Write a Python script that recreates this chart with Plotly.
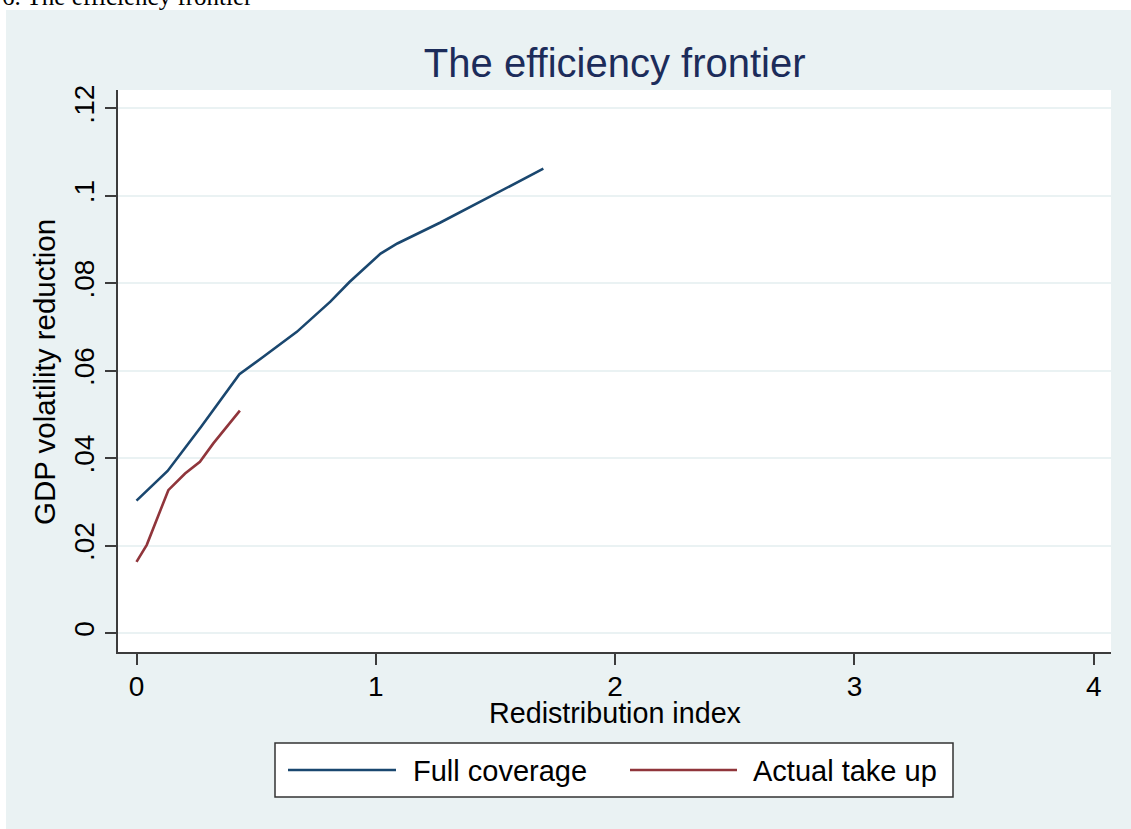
import plotly.graph_objects as go

# Series: redistribution index (x) vs GDP volatility reduction (y)
series_names = ["Full coverage", "Actual take up"]
series_colors = ["#1a476f", "#90353b"]

full_x = [0.0, 0.13, 0.27, 0.39, 0.43, 0.53, 0.67, 0.81, 0.89, 1.02, 1.09, 1.27, 1.50, 1.70]
full_y = [0.0303, 0.0371, 0.0472, 0.0563, 0.0592, 0.0632, 0.0689, 0.0758, 0.0803, 0.0868,
          0.0891, 0.0939, 0.1004, 0.1062]

take_x = [0.0, 0.043, 0.133, 0.203, 0.265, 0.321, 0.432]
take_y = [0.0163, 0.0202, 0.0327, 0.0365, 0.0392, 0.0434, 0.0509]

y_tickvals = [0, 0.02, 0.04, 0.06, 0.08, 0.10, 0.12]
y_ticktext = ["0", ".02", ".04", ".06", ".08", ".1", ".12"]
x_tickvals = [0, 1, 2, 3, 4]
x_ticktext = ["0", "1", "2", "3", "4"]

W, H = 1131, 829
L, R, T, B = 118, 20, 90, 177
PW, PH = W - L - R, H - T - B

def px(xp):
    return (xp - L) / PW

def py(yp):
    return (H - B - yp) / PH

FONT = "Liberation Sans, Arial, sans-serif"
BG = "#eaf2f3"
AXIS = "#3c3c3c"

fig = go.Figure()
fig.add_trace(go.Scatter(x=full_x, y=full_y, mode="lines", name=series_names[0],
                         line=dict(color=series_colors[0], width=2.6)))
fig.add_trace(go.Scatter(x=take_x, y=take_y, mode="lines", name=series_names[1],
                         line=dict(color=series_colors[1], width=2.6)))

shapes = [
    # white strips framing the graph region
    dict(type="rect", xref="paper", yref="paper", x0=px(0), x1=px(6), y0=py(H), y1=py(0),
         fillcolor="white", line=dict(width=0), layer="below"),
    dict(type="rect", xref="paper", yref="paper", x0=px(0), x1=px(W), y0=py(10), y1=py(0),
         fillcolor="white", line=dict(width=0), layer="below"),
    # legend box
    dict(type="rect", xref="paper", yref="paper", x0=px(275), x1=px(953), y0=py(797), y1=py(743),
         fillcolor="white", line=dict(color="#333333", width=1.5), layer="below"),
]
annotations = [
    dict(text="6. The efficiency frontier", xref="paper", yref="paper", x=px(0), y=py(12),
         xanchor="left", yanchor="bottom", showarrow=False,
         font=dict(family="Liberation Serif, Times New Roman, serif", size=25, color="black")),
    dict(text="GDP volatility reduction", xref="paper", yref="paper", x=px(44), y=py(372),
         textangle=-90, xanchor="center", yanchor="middle", showarrow=False,
         font=dict(family=FONT, size=29.5, color="black")),
    dict(text="Redistribution index", xref="paper", yref="paper", x=px(615), y=py(713),
         xanchor="center", yanchor="middle", showarrow=False,
         font=dict(family=FONT, size=28.7, color="black")),
]

# legend entries: line sample + label
legend_items = [(288, 396, 413), (630, 737, 753)]
for (x0, x1, tx), name, color in zip(legend_items, series_names, series_colors):
    shapes.append(dict(type="line", xref="paper", yref="paper", x0=px(x0), x1=px(x1),
                       y0=py(770), y1=py(770), line=dict(color=color, width=2.6)))
    annotations.append(dict(text=name, xref="paper", yref="paper", x=px(tx - 2), y=py(771),
                            xanchor="left", yanchor="middle", showarrow=False,
                            font=dict(family=FONT, size=29, color="black")))

fig.update_layout(
    width=W, height=H,
    margin=dict(l=L, r=R, t=T, b=B, pad=0),
    paper_bgcolor=BG, plot_bgcolor="white",
    showlegend=False,
    title=dict(text="The efficiency frontier", x=0.5435, xanchor="center",
               y=1 - 63 / H, yanchor="middle", yref="container",
               font=dict(family=FONT, size=40, color="#1c2c5a")),
    shapes=shapes, annotations=annotations,
    font=dict(family=FONT, size=28, color="black"),
)

fig.update_xaxes(range=[-0.0773, 4.072], tickvals=x_tickvals, ticktext=x_ticktext,
                 showgrid=False, zeroline=False, showline=True, linecolor=AXIS, linewidth=1.5,
                 ticks="outside", ticklen=11, tickwidth=1.5, tickcolor=AXIS,
                 tickfont=dict(family=FONT, size=28, color="black"), ticklabelstandoff=-2)
fig.update_yaxes(range=[-0.0043, 0.1242], tickvals=y_tickvals, ticktext=y_ticktext,
                 showgrid=True, gridcolor=BG, gridwidth=2, zeroline=False,
                 showline=True, linecolor=AXIS, linewidth=1.5,
                 ticks="outside", ticklen=11, tickwidth=1.5, tickcolor=AXIS, tickangle=-90,
                 tickfont=dict(family=FONT, size=28, color="black"))

fig.write_html("out.html")
